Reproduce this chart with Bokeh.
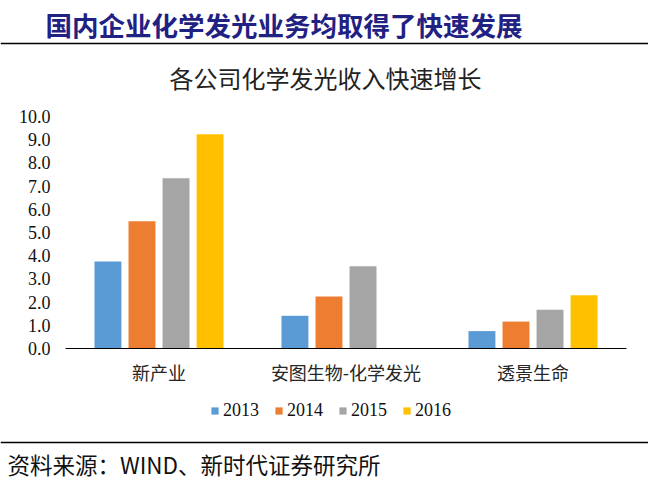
from bokeh.plotting import figure
from bokeh.models import (ColumnDataSource, Range1d, FixedTicker, NumeralTickFormatter,
                          Span, Legend, LegendItem)
from bokeh.core.properties import value
from bokeh.transform import dodge
from bokeh.embed import file_html
from bokeh.resources import INLINE

# ---- data ----
companies = ["新产业", "安图生物-化学发光", "透景生命"]
years = ["2013", "2014", "2015", "2016"]
v2013 = [3.75, 1.41, 0.75]
v2014 = [5.48, 2.24, 1.16]
v2015 = [7.34, 3.55, 1.67]
v2016 = [9.24, float("nan"), 2.29]
y_ticks = [0, 1, 2, 3, 4, 5, 6, 7, 8, 9, 10]

headline = "国内企业化学发光业务均取得了快速发展"
chart_title = "各公司化学发光收入快速增长"
source_note = "资料来源：WIND、新时代证券研究所"

colors = ["#5B9BD5", "#ED7D31", "#A5A5A5", "#FFC000"]
offsets = [-0.273, -0.091, 0.091, 0.273]
bar_width = 0.144

# ---- layout constants (pixels) ----
W, H = 648, 479
AX_LEFT, CAT_PX = 65, 187      # x pixel of category axis start, pixels per category
AX_BASE, UNIT_PX = 348, 23.2   # y pixel of value 0, pixels per value unit


def X(px):
    return (px - AX_LEFT) / CAT_PX


def Y(py):
    return (AX_BASE - py) / UNIT_PX


cat_pos = [i + 0.5 for i in range(len(companies))]
src = ColumnDataSource(dict(pos=cat_pos, y2013=v2013, y2014=v2014,
                            y2015=v2015, y2016=v2016))

p = figure(width=W, height=H, output_backend="svg", toolbar_location=None,
           x_range=Range1d(X(0), X(W)), y_range=Range1d(Y(H), Y(0)),
           min_border=0, min_border_left=0, min_border_right=0,
           min_border_top=0, min_border_bottom=0)
p.outline_line_color = None
p.xgrid.grid_line_color = None
p.ygrid.grid_line_color = None

renderers = []
for yr, col, off in zip(years, colors, offsets):
    r = p.vbar(x=dodge("pos", off), top="y" + yr, width=bar_width,
               source=src, fill_color=col, line_color=None)
    renderers.append(r)

# y axis inside the frame at the category-axis start
yax = p.yaxis[0]
yax.fixed_location = 0
yax.ticker = FixedTicker(ticks=y_ticks)
yax.formatter = NumeralTickFormatter(format="0.0")
yax.axis_line_color = None
yax.major_tick_line_color = None
yax.minor_tick_line_color = None
yax.major_tick_out = 0
yax.major_tick_in = 0
yax.major_label_standoff = 15
yax.major_label_text_font = "Liberation Serif"
yax.major_label_text_font_size = "18px"
yax.major_label_text_color = "#111111"

# x axis at value 0
xax = p.xaxis[0]
xax.fixed_location = 0
xax.bounds = (0, len(companies))
xax.ticker = FixedTicker(ticks=cat_pos)
xax.major_label_overrides = {c: name for c, name in zip(cat_pos, companies)}
xax.axis_line_color = "#000000"
xax.axis_line_width = 1
xax.major_tick_line_color = None
xax.minor_tick_line_color = None
xax.major_tick_out = 0
xax.major_tick_in = 0
xax.major_label_standoff = 10
xax.major_label_text_font = "Noto Sans CJK SC"
xax.major_label_text_font_size = "18px"
xax.major_label_text_color = "#262626"

legend = Legend(items=[LegendItem(label=yr, renderers=[r]) for yr, r in zip(years, renderers)],
                orientation="horizontal", location=(210, 58),
                label_text_font="Liberation Serif", label_text_font_size="18px",
                label_text_color="#111111", glyph_width=9, glyph_height=9,
                label_height=17, label_standoff=4, spacing=15, padding=0, margin=0,
                border_line_color=None, background_fill_alpha=0)
p.add_layout(legend)

# header, chart title, footer
p.text(x=[X(45)], y=[Y(24)], text=[headline], text_font=value("Noto Sans CJK SC"),
       text_font_style="bold", text_font_size="26.5px", text_color="#1F2183",
       text_align="left", text_baseline="middle")
p.text(x=[X(325)], y=[Y(77)], text=[chart_title], text_font=value("Noto Sans CJK SC"),
       text_font_size="24px", text_color="#222222",
       text_align="center", text_baseline="middle")
p.text(x=[X(7)], y=[Y(463)], text=[source_note], text_font=value("Noto Sans CJK SC"),
       text_font_size="22.5px", text_color="#111111",
       text_align="left", text_baseline="middle")
p.add_layout(Span(location=Y(43), dimension="width", line_color="#000000", line_width=1.5))
p.add_layout(Span(location=Y(442), dimension="width", line_color="#000000", line_width=1.5))

open("out.html", "w").write(file_html(p, INLINE))
